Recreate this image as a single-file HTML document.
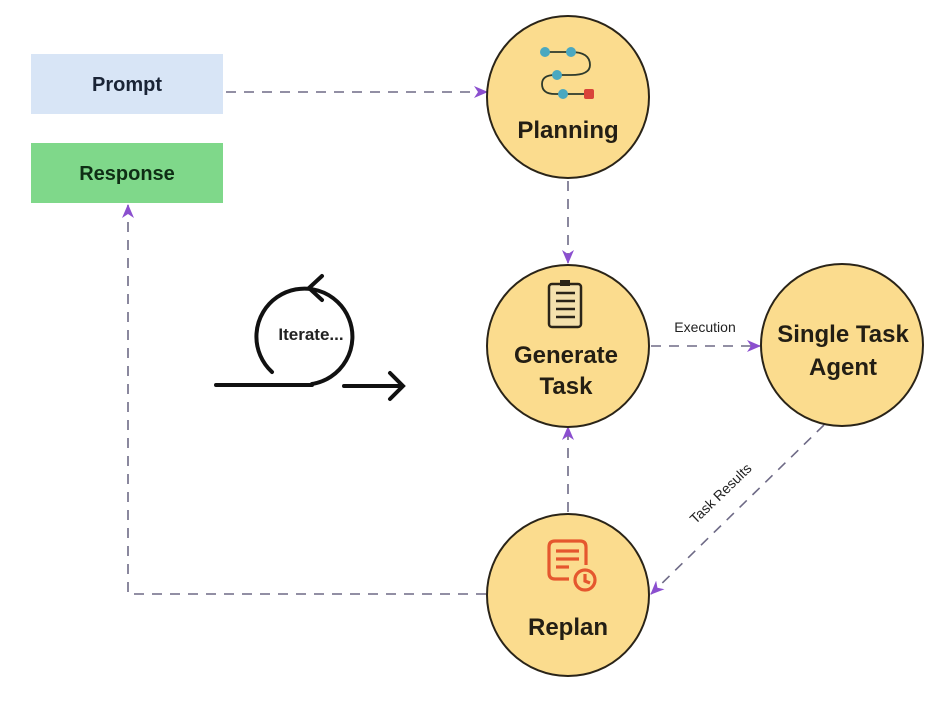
<!DOCTYPE html>
<html><head><meta charset="utf-8"><style>
body{margin:0;background:#fff;}
svg{display:block;font-family:"Liberation Sans",Arial,sans-serif;}
</style></head><body>
<svg width="952" height="716" viewBox="0 0 952 716" xmlns="http://www.w3.org/2000/svg">
<defs>
<marker id="ar" markerWidth="16" markerHeight="16" refX="13" refY="7" orient="auto" markerUnits="userSpaceOnUse">
<path d="M0,1 L14,7 L0,13 L4,7 z" fill="#8b4fcf"/>
</marker>
</defs>
<rect x="31" y="54" width="192" height="60" fill="#d8e5f6"/>
<text x="127" y="91" font-size="20" font-weight="bold" text-anchor="middle" fill="#1a2436">Prompt</text>
<rect x="31" y="143" width="192" height="60" fill="#7fd88a"/>
<text x="127" y="180" font-size="20" font-weight="bold" text-anchor="middle" fill="#0f2e15">Response</text>

<g stroke="#6e6a86" stroke-width="1.6" stroke-dasharray="10,8" fill="none">
<line x1="226" y1="92" x2="487" y2="92" marker-end="url(#ar)"/>
<line x1="568" y1="181" x2="568" y2="263" marker-end="url(#ar)"/>
<line x1="651" y1="346" x2="760" y2="346" marker-end="url(#ar)"/>
<line x1="824" y1="425" x2="651" y2="594" marker-end="url(#ar)"/>
<line x1="568" y1="512" x2="568" y2="427" marker-end="url(#ar)"/>
<polyline points="486,594 128,594 128,205" marker-end="url(#ar)"/>
</g>
<text x="705" y="332" font-size="14" text-anchor="middle" fill="#222">Execution</text>
<text transform="translate(724,497) rotate(-44)" font-size="14" text-anchor="middle" fill="#222">Task Results</text>

<g fill="#fbdc8e" stroke="#2a2418" stroke-width="2">
<circle cx="568" cy="97" r="81"/>
<circle cx="568" cy="346" r="81"/>
<circle cx="842" cy="345" r="81"/>
<circle cx="568" cy="595" r="81"/>
</g>
<g font-size="24" font-weight="bold" text-anchor="middle" fill="#231e14">
<text x="568" y="138">Planning</text>
<text x="566" y="363">Generate</text>
<text x="566" y="394">Task</text>
<text x="843" y="342">Single Task</text>
<text x="843" y="375">Agent</text>
<text x="568" y="635">Replan</text>
</g>
<!-- planning icon -->
<g stroke="#2d3a2c" stroke-width="1.8" fill="none">
<path d="M545,52 L571,52 Q590,52 590,65 Q590,75 571,75 L555,75 Q542,75 542,84 Q542,94 555,94 L585,94"/>
</g>
<g fill="#4aa8c0">
<circle cx="545" cy="52" r="5"/><circle cx="571" cy="52" r="5"/>
<circle cx="557" cy="75" r="5"/><circle cx="563" cy="94" r="5"/>
</g>
<rect x="584" y="89" width="10" height="10" rx="2" fill="#d9443a"/>
<!-- clipboard icon -->
<rect x="549" y="284" width="32" height="43" rx="3" fill="#f4e1ad" stroke="#2a2418" stroke-width="2.5"/>
<rect x="560" y="280" width="10" height="6" fill="#2a2418"/>
<g stroke="#2a2418" stroke-width="2.5">
<line x1="556" y1="293" x2="575" y2="293"/><line x1="556" y1="301" x2="575" y2="301"/>
<line x1="556" y1="309" x2="575" y2="309"/><line x1="556" y1="317" x2="575" y2="317"/>
</g>
<!-- replan icon -->
<g stroke="#e5572e" stroke-width="3.2" fill="none">
<path d="M569,579 L555,579 Q549,579 549,573 L549,547 Q549,541 555,541 L580,541 Q586,541 586,547 L586,565"/>
<line x1="556" y1="551" x2="579" y2="551"/><line x1="556" y1="559" x2="579" y2="559"/><line x1="556" y1="567" x2="569" y2="567"/>
<circle cx="585" cy="580" r="10"/>
<path d="M585,574 L585,581 L590,583"/>
</g>
<!-- iterate -->
<g stroke="#111" stroke-width="4" fill="none" stroke-linecap="round">
<path d="M272,372 A48,48 0 1 1 312,384"/>
<line x1="216" y1="385" x2="312" y2="385"/>
<line x1="344" y1="386" x2="402" y2="386"/>
<path d="M390,373 L403,386 L390,399"/>
<path d="M322,276 L309,288 L322,300"/>
</g>
<text x="311" y="340" font-size="17" font-weight="bold" text-anchor="middle" fill="#222">Iterate...</text>
</svg>
</body></html>
